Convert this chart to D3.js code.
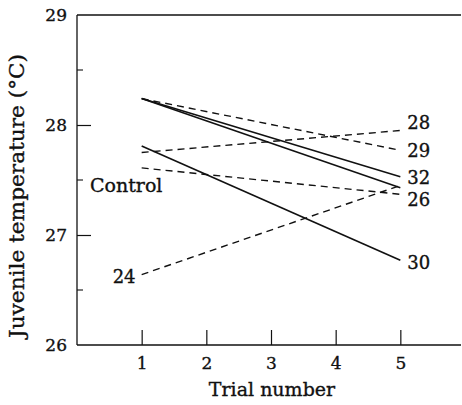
<!DOCTYPE html>
<html>
<head>
<meta charset="utf-8">
<script src="https://cdn.jsdelivr.net/npm/d3@7"></script>
<style>
  html, body { margin: 0; padding: 0; background: #fff; }
  svg { display: block; }
  text { font-family: "DejaVu Serif", "Liberation Serif", serif; fill: #111; stroke: #111; stroke-width: 0.35px; }
</style>
</head>
<body>
<svg id="chart" width="462" height="405"></svg>
<script>
// Juvenile rearing temperature groups, trial 1 vs trial 5
const groups      = ["32", "Control", "29", "30", "28", "26", "24"];
const trials      = [1, 5];
const trial1Temps = [28.24, 28.24, 28.24, 27.81, 27.75, 27.61, 26.64];
const trial5Temps = [27.53, 27.43, 27.77, 26.77, 27.95, 27.37, 27.45];
const dashedGroup = [false, false, true, false, true, true, true];

const xTicks = [1, 2, 3, 4, 5];
const yMajor = [26, 27, 28, 29];
const yMinor = [26.5, 27.5, 28.5];

// Group labels and the temperature level each one sits at
const rightLabels = ["28", "29", "32", "26", "30"];
const rightLabelY = [28.02, 27.77, 27.52, 27.32, 26.75];
const leftLabels  = ["Control", "24"];
const leftLabelY  = [27.45, 26.62];

const svg = d3.select("#chart");
const x = d3.scaleLinear().domain([0, 6]).range([77, 465]);
const y = d3.scaleLinear().domain([26, 29]).range([345, 15]);

const ink = "#111";

// Frame: left axis, bottom axis, top rule
svg.append("line").attr("x1", x(0)).attr("x2", x(0)).attr("y1", y(29)).attr("y2", y(26))
  .attr("stroke", ink).attr("stroke-width", 1.3);
svg.append("line").attr("x1", x(0)).attr("x2", 461).attr("y1", y(26)).attr("y2", y(26))
  .attr("stroke", ink).attr("stroke-width", 1.3);
svg.append("line").attr("x1", x(0)).attr("x2", 461).attr("y1", y(29)).attr("y2", y(29))
  .attr("stroke", ink).attr("stroke-width", 1.3);

// X axis: inward ticks
const xAxis = d3.axisBottom(x).tickValues(xTicks).tickSizeInner(-15).tickSizeOuter(0)
  .tickFormat(d3.format("d"));
const gx = svg.append("g").attr("transform", `translate(0,${y(26)})`).call(xAxis);
gx.select(".domain").remove();
gx.selectAll(".tick line").attr("stroke", ink).attr("stroke-width", 1.2);
gx.selectAll(".tick text").attr("font-size", 17).attr("fill", ink)
  .attr("y", 18).attr("dy", "0.35em");

// Y axis: major and minor inward ticks
const yAxis = d3.axisLeft(y).tickValues(yMajor).tickSizeInner(-14).tickSizeOuter(0)
  .tickFormat(d3.format("d"));
const gy = svg.append("g").attr("transform", `translate(${x(0)},0)`).call(yAxis);
gy.select(".domain").remove();
gy.selectAll(".tick line").attr("stroke", ink).attr("stroke-width", 1.2);
gy.selectAll(".tick").filter(d => d === 29 || d === 26).select("line").remove();
gy.selectAll(".tick text").attr("font-size", 17).attr("fill", ink).attr("x", -10);

svg.append("g").selectAll("line").data(yMinor).join("line")
  .attr("x1", x(0)).attr("x2", x(0) + 6)
  .attr("y1", d => y(d)).attr("y2", d => y(d))
  .attr("stroke", ink).attr("stroke-width", 1.1);

// Axis titles
svg.append("text").attr("x", 272).attr("y", 396).attr("text-anchor", "middle")
  .attr("font-size", 19).text("Trial number");
svg.append("text").attr("transform", `translate(24,196) rotate(-90)`)
  .attr("text-anchor", "middle").attr("font-size", 20)
  .attr("textLength", 284).attr("lengthAdjust", "spacingAndGlyphs")
  .text("Juvenile temperature (°C)");

// Group lines
const line = d3.line().x(d => x(d[0])).y(d => y(d[1]));
svg.append("g").selectAll("path").data(groups).join("path")
  .attr("d", (g, i) => line([[trials[0], trial1Temps[i]], [trials[1], trial5Temps[i]]]))
  .attr("fill", "none").attr("stroke", ink)
  .attr("stroke-width", (g, i) => dashedGroup[i] ? 1.4 : 1.6)
  .attr("stroke-dasharray", (g, i) => dashedGroup[i] ? "7,5" : null);

// Group labels
svg.append("g").selectAll("text").data(rightLabels).join("text")
  .attr("x", x(5) + 7).attr("y", (d, i) => y(rightLabelY[i])).attr("dy", "0.35em")
  .attr("font-size", 18).text(d => d);
svg.append("text").attr("x", 90).attr("y", y(leftLabelY[0]))
  .attr("dy", "0.35em").attr("font-size", 19).text(leftLabels[0]);
svg.append("text").attr("x", x(1) - 29).attr("y", y(leftLabelY[1]))
  .attr("dy", "0.35em").attr("font-size", 18).text(leftLabels[1]);
</script>
</body>
</html>
